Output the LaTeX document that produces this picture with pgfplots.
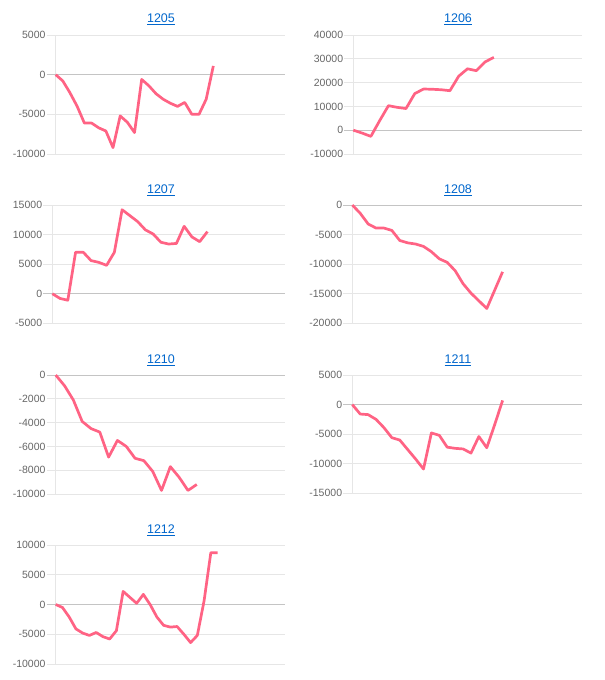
\documentclass[border=0pt]{standalone}
\usepackage{pgfplots}
\pgfplotsset{compat=1.18}
\usepackage{fontspec}
\setmainfont{Liberation Sans}
\definecolor{linecol}{RGB}{255,99,132}
\definecolor{gridc}{RGB}{230,230,230}
\definecolor{zeroc}{RGB}{196,196,196}
\definecolor{tickc}{RGB}{102,102,102}
\definecolor{titlec}{RGB}{0,102,204}
\pgfplotsset{
  panel/.style={
    scale only axis, width=229pt, height=119pt,
    axis x line=none, axis y line*=left,
    y axis line style={draw=gridc, line width=0.8pt},
    xmin=0, ymajorgrids, scaled y ticks=false,
    major grid style={draw=gridc, line width=0.8pt},
    tick align=outside, major tick length=9pt,
    ytick style={draw=gridc, line width=0.8pt},
    yticklabel style={font=\fontsize{10.5}{12}\selectfont, text=tickc, inner xsep=1pt},
    extra y ticks={0}, extra y tick labels={0},
    extra y tick style={major grid style={draw=zeroc, line width=0.8pt}, ytick style={draw=zeroc, line width=0.8pt}},
    clip=false,
  },
  pline/.style={color=linecol, line width=2.7pt, line join=round, no marks},
}
\begin{document}
\begin{tikzpicture}
\path[use as bounding box] (0,0) rectangle (605pt,680pt);
% titles
\foreach \t/\x/\y in {1205/161/661, 1206/458/661, 1207/161/490, 1208/458/490, 1210/161/320, 1211/458/320, 1212/161/150}{
  \node[font=\fontsize{12.5}{14}\selectfont, text=titlec] at (\x pt,\y pt) {\underline{\t}};
}
% 1205
\begin{axis}[panel, at={(55.7pt,526pt)}, anchor=south west, width=229.3pt,
  xmax=32, ymin=-10000, ymax=5000, ytick={-10000,-5000,5000}, yticklabels={-10000,-5000,5000}]
\addplot[pline] coordinates {(0,0) (1,-800) (2,-2300) (3,-4000) (4,-6100) (5,-6100) (6,-6700) (7,-7100) (8,-9200) (9,-5200) (10,-6000) (11,-7300) (12,-600) (13,-1400) (14,-2400) (15,-3100) (16,-3600) (17,-4000) (18,-3500) (19,-5000) (20,-5000) (21,-3100) (22,1100)};
\end{axis}
% 1206
\begin{axis}[panel, at={(353.3pt,526pt)}, anchor=south west, width=228.4pt,
  xmax=26, ymin=-10000, ymax=40000, ytick={-10000,10000,20000,30000,40000}, yticklabels={-10000,10000,20000,30000,40000}]
\addplot[pline] coordinates {(0,0) (1,-1200) (2,-2600) (3,4000) (4,10300) (5,9600) (6,9100) (7,15400) (8,17300) (9,17200) (10,17000) (11,16600) (12,22700) (13,25800) (14,25000) (15,28700) (16,30600)};
\end{axis}
% 1207
\begin{axis}[panel, at={(52.3pt,356.7pt)}, anchor=south west, width=232.7pt, height=118.3pt,
  xmax=30, ymin=-5000, ymax=15000, ytick={-5000,5000,10000,15000}, yticklabels={-5000,5000,10000,15000}]
\addplot[pline] coordinates {(0,0) (1,-800) (2,-1100) (3,7000) (4,7000) (5,5600) (6,5300) (7,4800) (8,7000) (9,14200) (10,13200) (11,12200) (12,10800) (13,10100) (14,8700) (15,8400) (16,8500) (17,11400) (18,9600) (19,8800) (20,10500)};
\end{axis}
% 1208
\begin{axis}[panel, at={(352.3pt,356.7pt)}, anchor=south west, width=229.4pt, height=118.3pt,
  xmax=29, ymin=-20000, ymax=0, ytick={-20000,-15000,-10000,-5000}, yticklabels={-20000,-15000,-10000,-5000}]
\addplot[pline] coordinates {(0,0) (1,-1400) (2,-3200) (3,-3900) (4,-3900) (5,-4300) (6,-6000) (7,-6400) (8,-6600) (9,-7000) (10,-7900) (11,-9100) (12,-9700) (13,-11100) (14,-13300) (15,-14900) (16,-16200) (17,-17500) (18,-14400) (19,-11300)};
\end{axis}
% 1210
\begin{axis}[panel, at={(55.7pt,186pt)}, anchor=south west, width=229.3pt,
  xmax=26, ymin=-10000, ymax=0, ytick={-10000,-8000,-6000,-4000,-2000}, yticklabels={-10000,-8000,-6000,-4000,-2000}]
\addplot[pline] coordinates {(0,0) (1,-900) (2,-2100) (3,-3900) (4,-4500) (5,-4800) (6,-6900) (7,-5500) (8,-6000) (9,-7000) (10,-7200) (11,-8100) (12,-9700) (13,-7700) (14,-8600) (15,-9700) (16,-9200)};
\end{axis}
% 1211
\begin{axis}[panel, at={(352.3pt,186.7pt)}, anchor=south west, width=229.4pt, height=118.3pt,
  xmax=29, ymin=-15000, ymax=5000, ytick={-15000,-10000,-5000,5000}, yticklabels={-15000,-10000,-5000,5000}]
\addplot[pline] coordinates {(0,0) (1,-1600) (2,-1700) (3,-2500) (4,-3900) (5,-5600) (6,-6000) (7,-7600) (8,-9200) (9,-10900) (10,-4800) (11,-5200) (12,-7200) (13,-7400) (14,-7500) (15,-8200) (16,-5400) (17,-7300) (18,-3400) (19,700)};
\end{axis}
% 1212
\begin{axis}[panel, at={(55.7pt,16pt)}, anchor=south west, width=229.3pt,
  xmax=34, ymin=-10000, ymax=10000, ytick={-10000,-5000,5000,10000}, yticklabels={-10000,-5000,5000,10000}]
\addplot[pline] coordinates {(0,0) (1,-500) (2,-2100) (3,-4100) (4,-4800) (5,-5200) (6,-4700) (7,-5400) (8,-5800) (9,-4400) (10,2200) (11,1200) (12,200) (13,1700) (14,0) (15,-2100) (16,-3500) (17,-3800) (18,-3700) (19,-5000) (20,-6400) (21,-5200) (22,600) (23,8700) (24,8700)};
\end{axis}
\end{tikzpicture}
\end{document}
